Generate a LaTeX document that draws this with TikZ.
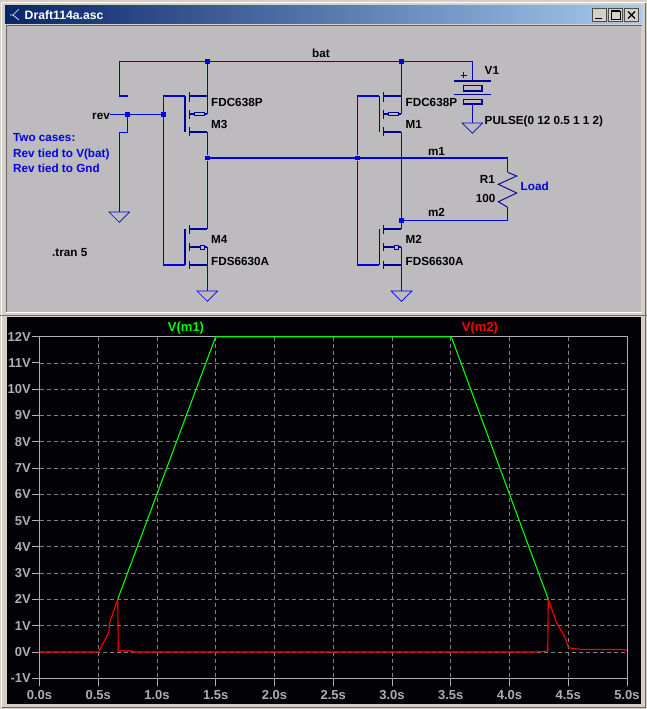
\documentclass[tikz,border=0pt]{standalone}
\usepackage{fontspec}
\setmainfont{Liberation Sans}
\usetikzlibrary{calc}
\definecolor{wireblue}{RGB}{0,0,225}
\definecolor{symblue}{RGB}{0,0,150}
\definecolor{panelgrey}{RGB}{189,187,190}
\definecolor{framegrey}{RGB}{212,208,200}
\definecolor{axisgrey}{RGB}{175,175,175}
\definecolor{gridgrey}{RGB}{130,130,130}
\definecolor{plotgreen}{RGB}{0,255,0}
\definecolor{plotred}{RGB}{255,0,0}
\definecolor{plotblack}{RGB}{2,1,6}
\tikzset{
  x=1pt,y=-1pt,
  wire/.style={draw=wireblue,line width=1.05pt},
  sym/.style={draw=symblue,line width=1.05pt},
  gnd/.style={draw=wireblue,line width=0.7pt},
  junc/.style={fill=wireblue,inner sep=0pt,minimum size=4.8pt,rectangle},
  lab/.style={font=\bfseries\fontsize{11.7}{12}\selectfont,text=black,inner sep=0pt},
  bluelab/.style={lab,text=wireblue},
  axlab/.style={font=\bfseries\fontsize{13}{14}\selectfont,text=axisgrey,inner sep=0pt},
  axis/.style={draw=axisgrey,line width=0.9pt},
  gridl/.style={draw=gridgrey,line width=0.8pt,dash pattern=on 4pt off 3pt},
  trace/.style={line width=1.1pt,line join=round},
  wbtn/.style={draw=black!70,fill=framegrey,line width=0.6pt},
}
\newcommand{\pmosfet}[2]{%
  \begin{scope}[xshift=#1pt]
    \draw[sym] (185,96) -- (185,132);
    \draw[sym] (189.5,92) -- (189.5,102) (189.5,110) -- (189.5,119) (189.5,127) -- (189.5,136);
    \draw[sym] (189.5,96) -- (207,96) (189.5,132) -- (207,132);
    \draw[sym] (189.5,114) -- (194.5,114) (204,114) -- (207,114);
    \draw[sym,line width=0.7pt] (194.5,112.6) rectangle (204,115.4);
  \end{scope}}
\newcommand{\nmosfet}[2]{%
  \begin{scope}[xshift=#1pt]
    \draw[sym] (185,229) -- (185,265);
    \draw[sym] (189.5,225) -- (189.5,234) (189.5,243) -- (189.5,251) (189.5,261) -- (189.5,269);
    \draw[sym] (189.5,229) -- (207,229) (189.5,265) -- (207,265);
    \draw[sym] (189.5,247) -- (200,247) (204,247) -- (207,247);
    \draw[sym,line width=0.7pt] (200,245) rectangle (204,249);
  \end{scope}}
\newcommand{\gndsym}[2]{\draw[gnd] (#1-10.3,#2) -- (#1+10.3,#2) -- (#1,#2+10.3) -- cycle;}
\begin{document}
\begin{tikzpicture}
\useasboundingbox (0,0) rectangle (647,709);
% window frame
\fill[framegrey] (0,0) rectangle (647,709);
\draw[white,line width=1pt] (1.5,3) -- (645.5,3);
\draw[white,line width=1pt] (1.5,3) -- (1.5,707);
\draw[black!60,line width=1pt] (1.5,707) -- (645.5,707) -- (645.5,3);
% title bar
\shade[left color={rgb,255:red,10;green,36;blue,106},right color={rgb,255:red,166;green,202;blue,240}] (5,6) rectangle (642,24);
\node[font=\bfseries\fontsize{12.2}{13}\selectfont,text=white,anchor=west,inner sep=0pt] (title) at (24.5,15) {Draft114a.asc};
\draw[white,line width=0.7pt] (19,9) -- (13,15) -- (19,20) (13,15) -- (10,15);
\draw[wbtn] (592,8.5) rectangle (606,21.5);
\draw[wbtn] (608,8.5) rectangle (622,21.5);
\draw[wbtn] (624.5,8.5) rectangle (638.5,21.5);
\draw[black,line width=1.6pt] (595,18.5) -- (602,18.5);
\draw[black,line width=0.7pt] (611,11) rectangle (620,19.5);
\draw[black,line width=1.5pt] (611,11) -- (620,11);
\draw[black,line width=1.1pt] (628,11.5) -- (635,18.5) (635,11.5) -- (628,18.5);
% schematic panel
\draw[black!60,line width=1pt] (6.5,26) -- (6.5,312);
\draw[black!60,line width=1pt] (6,25.8) -- (642,25.8);
\fill[panelgrey] (7,26) rectangle (641,311.5);
\draw[white,line width=1pt] (6,312.5) -- (642,312.5);
\draw[black!55,line width=1pt] (0,315.8) -- (647,315.8);
% plot panel
\fill[plotblack] (7,317) rectangle (641,704);
% ---------- schematic
\node[junc] (jbatl) at (207.3,61.3) {};
\node[junc] (jbatr) at (401.5,61.3) {};
\node[junc] (jrevl) at (127.3,114.3) {};
\node[junc] (jrevr) at (163.3,114.3) {};
\node[junc] (jml) at (207.3,158) {};
\node[junc] (jmr) at (357.5,158) {};
\node[junc] (jm2) at (401.5,220.3) {};
\coordinate (revend) at (110,114.3);
\coordinate (rtop) at (507.7,158);
\coordinate (rbot) at (507.7,220.3);
\coordinate (vtop) at (472.3,61.3);
\pmosfet{0}{m3}
\nmosfet{0}{m4}
\pmosfet{194.3}{m1}
\nmosfet{194.3}{m2}
% wires
\draw[wire] (119.3,96) -- (119.3,61.3) -- (jbatl) -- (jbatr) -- (vtop) -- (472.3,81);
\draw[wire] (119.3,96) -- (128,96);
\draw[wire] (revend) -- (jrevl) -- (jrevr);
\draw[wire] (jrevl) -- (127.3,132.3) -- (119.3,132.3) -- (119.3,212);
\draw[wire] (jrevr) -- (163.3,96) -- (185,96);
\draw[wire] (jrevr) -- (163.3,265) -- (185,265);
\draw[wire] (jbatl) -- (207.3,114);
\draw[wire] (207.3,132) -- (jml) -- (207.3,229);
\draw[wire] (207.3,247) -- (207.3,291);
\draw[wire] (jbatr) -- (401.5,114);
\draw[wire] (401.5,132) -- (jm2) -- (401.5,229);
\draw[wire] (401.5,247) -- (401.5,291);
\draw[wire] (jml) -- (jmr) -- (rtop) -- (507.7,172.3);
\draw[wire] (jmr) -- (357.5,96) -- (379.3,96);
\draw[wire] (jmr) -- (357.5,265) -- (379.3,265);
\draw[wire] (jm2) -- (rbot) -- (507.7,207.3);
\draw[wire] (472.3,104) -- (472.3,123);
% resistor
\draw[sym,line width=0.9pt,line join=miter] (507.7,172.3) -- (516.7,176) -- (498.3,184.3) -- (516.7,193) -- (498.3,201.7) -- (507.7,207.3);
% source
\draw[sym] (454,81) -- (491,81) (454,94.3) -- (491,94.3);
\draw[sym] (463.3,85.3) rectangle (482,91);
\draw[sym] (463.3,99.3) rectangle (482,104);
\draw[sym,line width=0.7pt] (460.7,75) -- (466.7,75) (463.7,72) -- (463.7,78);
% grounds
\gndsym{119.3}{212}
\gndsym{207.3}{291}
\gndsym{401.5}{291}
\gndsym{472.3}{123}
% labels
\node[lab,anchor=base] (lbat) at (321,58) {bat};
\node[lab,anchor=base west] (lv1) at (484.5,74.5) {V1};
\node[lab,anchor=base west] (lpulse) at (484.5,124) {PULSE(0 12 0.5 1 1 2)};
\node[lab,anchor=base west] (lm3a) at (211,106) {FDC638P};
\node[lab,anchor=base west] (lm3b) at (211,128.5) {M3};
\node[lab,anchor=base west] (lm1a) at (405.5,106) {FDC638P};
\node[lab,anchor=base west] (lm1b) at (405.5,128.5) {M1};
\node[lab,anchor=base west] (lm4a) at (211,243) {M4};
\node[lab,anchor=base west] (lm4b) at (211,265) {FDS6630A};
\node[lab,anchor=base west] (lm2a) at (405.5,243) {M2};
\node[lab,anchor=base west] (lm2b) at (405.5,265) {FDS6630A};
\node[lab,anchor=base] (lm1n) at (436.5,155) {m1};
\node[lab,anchor=base] (lm2n) at (436.5,216) {m2};
\node[lab,anchor=base east] (lr1) at (495,183) {R1};
\node[lab,anchor=base east] (lr100) at (495.5,202.5) {100};
\node[bluelab,anchor=base west] (lload) at (520.5,190) {Load};
\node[lab,anchor=base east] (lrev) at (110,119) {rev};
\node[bluelab,anchor=base west] (ln1) at (13,141) {Two cases:};
\node[bluelab,anchor=base west] (ln2) at (13,157) {Rev tied to V(bat)};
\node[bluelab,anchor=base west] (ln3) at (13,172) {Rev tied to Gnd};
\node[lab,anchor=base west] (ltran) at (52,256) {.tran 5};
% ---------- plot
\foreach \v in {0,1,...,11}{
  \pgfmathsetmacro{\yy}{652-26.28*\v}
  \draw[gridl] (39.5,\yy) -- (627,\yy);
}
\foreach \t in {1,...,9}{
  \pgfmathsetmacro{\xx}{39.5+58.75*\t}
  \draw[gridl] (\xx,336.7) -- (\xx,678.3);
}
\draw[axis] (39.5,336.7) rectangle (627,678.3);
\foreach \v/\s in {-1/-1V,0/0V,1/1V,2/2V,3/3V,4/4V,5/5V,6/6V,7/7V,8/8V,9/9V,10/10V,11/11V,12/12V}{
  \pgfmathsetmacro{\yy}{652-26.28*\v}
  \draw[axis] (31.5,\yy) -- (39.5,\yy);
  \node[axlab,anchor=east] at (31,\yy) {\s};
}
\foreach \t/\s in {0/0.0s,1/0.5s,2/1.0s,3/1.5s,4/2.0s,5/2.5s,6/3.0s,7/3.5s,8/4.0s,9/4.5s,10/5.0s}{
  \pgfmathsetmacro{\xx}{39.5+58.75*\t}
  \draw[axis] (\xx,678.3) -- (\xx,686);
  \node[axlab,anchor=base] at (\xx,699.5) {\s};
}
\draw[trace,plotred] (39.5,652) -- (98.5,652) -- (109,632) -- (109.5,623) -- (117.7,599.3) -- (118.3,651) -- (132,651) -- (132,652) -- (535,652) -- (547.7,651) -- (548.3,599.3) -- (556.7,623) -- (565,637) -- (568,647) -- (570,648) -- (580,649.3) -- (621,649.5) -- (627,650.3);
\draw[trace,plotgreen] (117.7,599.3) -- (215.7,336.7) -- (451.3,336.7) -- (548.3,599.3);
\node[font=\bfseries\fontsize{13}{14}\selectfont,text=plotgreen,inner sep=0pt,anchor=base] (tm1) at (186,331.5) {V(m1)};
\node[font=\bfseries\fontsize{13}{14}\selectfont,text=plotred,inner sep=0pt,anchor=base] (tm2) at (480,331.5) {V(m2)};
\end{tikzpicture}
\end{document}
